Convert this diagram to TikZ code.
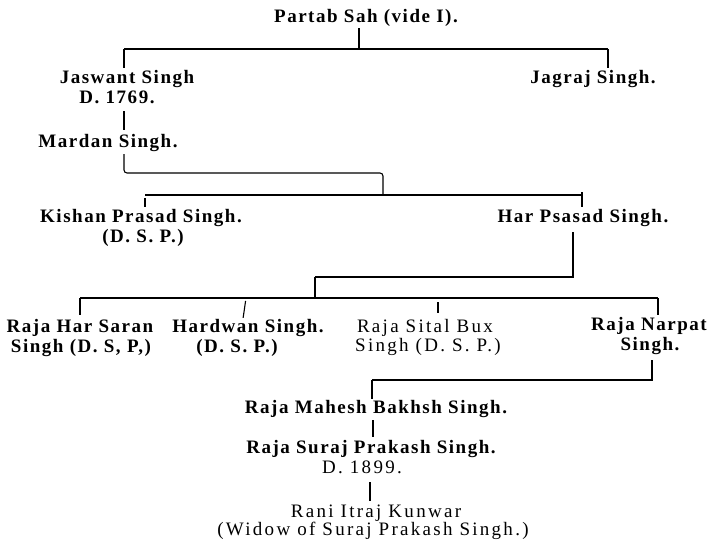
\documentclass[tikz,border=0pt]{standalone}
\usepackage{fontspec}
\setmainfont{Liberation Serif}
\newfontfamily\boldlsp{Liberation Serif}[LetterSpace=8]
\newfontfamily\lightlsp{Liberation Serif}[LetterSpace=12]
\begin{document}
\begin{tikzpicture}[x=1pt,y=-1pt,
  lbl/.style={inner sep=0pt, anchor=base, text height=13pt, text depth=4pt,
    font=\boldlsp\bfseries\fontsize{19}{20}\selectfont},
  lgt/.style={lbl, font=\lightlsp\fontsize{19}{20}\selectfont},
  thinline/.style={line width=1.1pt},
  thickline/.style={line width=2.6pt}]
\useasboundingbox (0,0) rectangle (709,546);
% texts
\node[lbl] (partab) at (366,22) {Partab Sah (vide I).};
\node[lbl] (jas) at (127,83) {Jaswant Singh};
\node[lbl] (jasd) at (117,103) {D. 1769.};
\node[lbl] (jag) at (593,83) {Jagraj Singh.};
\node[lbl] (mar) at (108,147) {Mardan Singh.};
\node[lbl] (kis) at (141,222) {Kishan Prasad Singh.};
\node[lbl] (kisd) at (143,242) {(D. S. P.)};
\node[lbl] (har) at (583,222) {Har Psasad Singh.};
\node[lbl] (hs) at (80,332) {Raja Har Saran};
\node[lbl] (hsd) at (81,352) {Singh (D. S, P,)};
\node[lbl] (hw) at (248,332) {Hardwan Singh.};
\node[lbl] (hwd) at (237,352) {(D. S. P.)};
\node[lgt] (si) at (425,332) {Raja Sital Bux};
\node[lgt] (sid) at (428,351) {Singh (D. S. P.)};
\node[lbl] (na) at (649,330) {Raja Narpat};
\node[lbl] (nad) at (650,350) {Singh.};
\node[lbl] (mah) at (376,413) {Raja Mahesh Bakhsh Singh.};
\node[lbl] (sur) at (371,453) {Raja Suraj Prakash Singh.};
\node[lgt] (surd) at (362,473) {D. 1899.};
\node[lgt] (rani) at (376,517) {Rani Itraj Kunwar};
\node[lgt] (wid) at (373,535) {(Widow of Suraj Prakash Singh.)};
% junction coordinates
\coordinate (p0) at (359,49);
\coordinate (pl) at (124,49);
\coordinate (pr) at (608,49);
\coordinate (m1) at (124,173);
\coordinate (m2) at (383,173);
\coordinate (m3) at (383,195);
\coordinate (kl) at (145,195);
\coordinate (kr) at (582,195);
\coordinate (h1) at (573,277);
\coordinate (h2) at (315,277);
\coordinate (h3) at (315,298);
\coordinate (bl) at (80,298);
\coordinate (br) at (658,298);
\coordinate (bw) at (246,298);
\coordinate (bs) at (438,298);
\coordinate (n1) at (652,380);
\coordinate (n2) at (372,380);
% connectors
\draw[thinline,shorten <=2pt] (partab.south -| p0) -- (p0);
\draw[thinline] (pl) -- (pr);
\draw[thinline,shorten >=2pt] (pl) -- (jas.north -| pl);
\draw[thinline,shorten >=2pt] (pr) -- (jag.north -| pr);
\draw[thinline,shorten <=4pt,shorten >=4pt] (jasd.south -| pl) -- (mar.north -| pl);
\draw[thinline,rounded corners=3pt,shorten <=3pt] (mar.south -| m1) -- (m1) -- (m2) -- (m3);
\draw[thinline] (kl) -- (kr);
\draw[thinline,shorten <=3pt,shorten >=2pt] (kl) -- (kis.north -| kl);
\draw[thinline,shorten <=-3pt,shorten >=2pt] (kr) -- (har.north -| kr);
\draw[thickline,shorten <=6pt] (har.south -| h1) -- (h1) -- (h2);
\draw[thinline] (h2) -- (h3);
\draw[thinline] (bl) -- (br);
\draw[thinline,shorten >=4pt] (bl) -- (hs.north -| bl);
\draw[thinline,shorten <=3pt,shorten >=1pt] (bw) -- ([xshift=-3pt]hw.north -| bw);
\draw[thinline,shorten <=4pt,shorten >=6pt] (bs) -- (si.north -| bs);
\draw[thinline,shorten >=2pt] (br) -- (na.north -| br);
\draw[thinline,shorten <=6pt] (nad.south -| n1) -- (n1) -- (n2);
\draw[thinline,shorten >=1pt] (n2) -- (mah.north -| n2);
\draw[thinline,shorten <=3pt,shorten >=3pt] (mah.south -| 373,0) -- (sur.north -| 373,0);
\draw[thinline,shorten <=5pt,shorten >=3pt] (surd.south -| 370,0) -- (rani.north -| 370,0);
\end{tikzpicture}
\end{document}
